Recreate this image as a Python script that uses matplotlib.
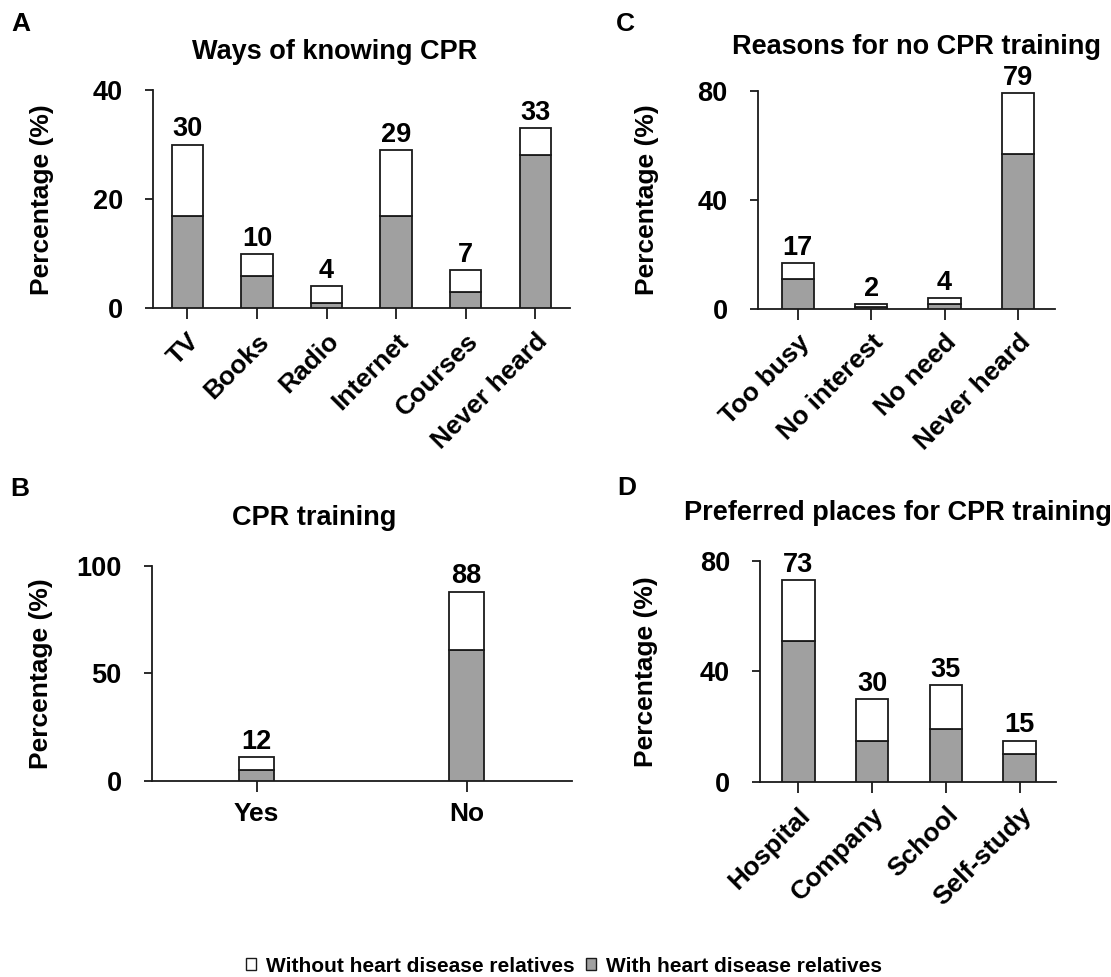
import matplotlib
matplotlib.use("Agg")
import matplotlib.pyplot as plt
from matplotlib.patches import Patch

plt.rcParams['font.family'] = ['Liberation Sans', 'DejaVu Sans']
plt.rcParams['font.weight'] = 'bold'

# ---- data ----
a_cats = ["TV", "Books", "Radio", "Internet", "Courses", "Never heard"]
a_with = [17, 6, 1, 17, 3, 28]
a_without = [13, 4, 3, 12, 4, 5]
a_labels = [30, 10, 4, 29, 7, 33]

b_cats = ["Yes", "No"]
b_with = [5, 61]
b_without = [6, 27]
b_labels = [12, 88]

c_cats = ["Too busy", "No interest", "No need", "Never heard"]
c_with = [11, 1, 2, 57]
c_without = [6, 1, 2, 22]
c_labels = [17, 2, 4, 79]

d_cats = ["Hospital", "Company", "School", "Self-study"]
d_with = [51, 15, 19, 10]
d_without = [22, 15, 16, 5]
d_labels = [73, 30, 35, 15]

W, H = 1111, 977
fig = plt.figure(figsize=(W / 100, H / 100), dpi=100)

GRAY = '#a0a0a0'
EDGE = '#1a1a1a'
FS = 19.5
FS_X = 19
FS_YL = 19


def rect(l, r, b, t):
    return [l / W, (H - b) / H, (r - l) / W, (b - t) / H]


def panel(pos, cats, with_v, without_v, labels, ymax, yticks, xlim, width,
          title, title_xy, letter, letter_xy, ylab_x, rotate=True):
    ax = fig.add_axes(rect(*pos))
    x = list(range(len(cats)))
    ax.bar(x, with_v, width=width, color=GRAY, edgecolor=EDGE, linewidth=1.3, zorder=3)
    tops = [a + b for a, b in zip(with_v, without_v)]
    ax.bar(x, without_v, bottom=with_v, width=width, color='white',
           edgecolor=EDGE, linewidth=1.3, zorder=3)
    for xi, t, lab in zip(x, tops, labels):
        ax.annotate(str(lab), (xi, t), xytext=(0, 1.5), textcoords='offset points',
                    ha='center', va='bottom', fontsize=FS, fontweight='bold')
    ax.set_xlim(*xlim)
    ax.set_ylim(0, ymax)
    ax.set_yticks(yticks)
    ax.set_xticks(x)
    if rotate:
        ax.set_xticklabels(cats, rotation=45, ha='right', rotation_mode='anchor',
                           fontsize=FS_X, fontweight='bold')
    else:
        ax.set_xticklabels(cats, fontsize=FS_X, fontweight='bold')
    for lab in ax.get_yticklabels():
        lab.set_fontsize(FS)
        lab.set_fontweight('bold')
    ax.spines['top'].set_visible(False)
    ax.spines['right'].set_visible(False)
    for s in ('left', 'bottom'):
        ax.spines[s].set_linewidth(1.3)
        ax.spines[s].set_color(EDGE)
    ax.tick_params(axis='y', length=5.5, width=1.3, color=EDGE, pad=16)
    ax.tick_params(axis='x', length=8, width=1.3, color=EDGE, pad=7)
    fig.text(ylab_x / W, 1 - (pos[2] + pos[3]) / 2 / H, "Percentage (%)", rotation=90,
             ha='center', va='center', fontsize=FS_YL, fontweight='bold')
    fig.text(title_xy[0] / W, 1 - title_xy[1] / H, title, ha='center', va='center',
             fontsize=FS, fontweight='bold')
    fig.text(letter_xy[0] / W, 1 - letter_xy[1] / H, letter, ha='left', va='center',
             fontsize=19, fontweight='bold')
    return ax


panel((152.7, 570, 308.3, 90), a_cats, a_with, a_without, a_labels, 40, [0, 20, 40],
      (-0.5, 5.5), 0.45, "Ways of knowing CPR", (335, 52), "A", (11, 24), 42)
panel((151.7, 571.7, 781, 565.7), b_cats, b_with, b_without, b_labels, 100, [0, 50, 100],
      (-0.5, 1.5), 0.165, "CPR training", (314, 518), "B", (10, 489), 41, rotate=False)
panel((757.5, 1054.6, 309.3, 90.7), c_cats, c_with, c_without, c_labels, 80, [0, 40, 80],
      (-0.55, 3.5), 0.44, "Reasons for no CPR training", (916, 47), "C", (616, 24), 647)
panel((760, 1056.4, 782, 560.7), d_cats, d_with, d_without, d_labels, 80, [0, 40, 80],
      (-0.52, 3.5), 0.44, "Preferred places for CPR training", (898, 513), "D", (617, 488), 646)

handles = [Patch(facecolor='white', edgecolor=EDGE, linewidth=1.0),
           Patch(facecolor=GRAY, edgecolor=EDGE, linewidth=1.0)]
fig.legend(handles, ["Without heart disease relatives", "With heart disease relatives"],
           loc='center', bbox_to_anchor=(564 / W, 1 - 966 / H), ncol=2, frameon=False,
           handlelength=0.5, handleheight=0.5, handletextpad=0.5, columnspacing=0.5,
           prop={'size': 15, 'weight': 'bold'})

fig.savefig("out.png", dpi=100)
